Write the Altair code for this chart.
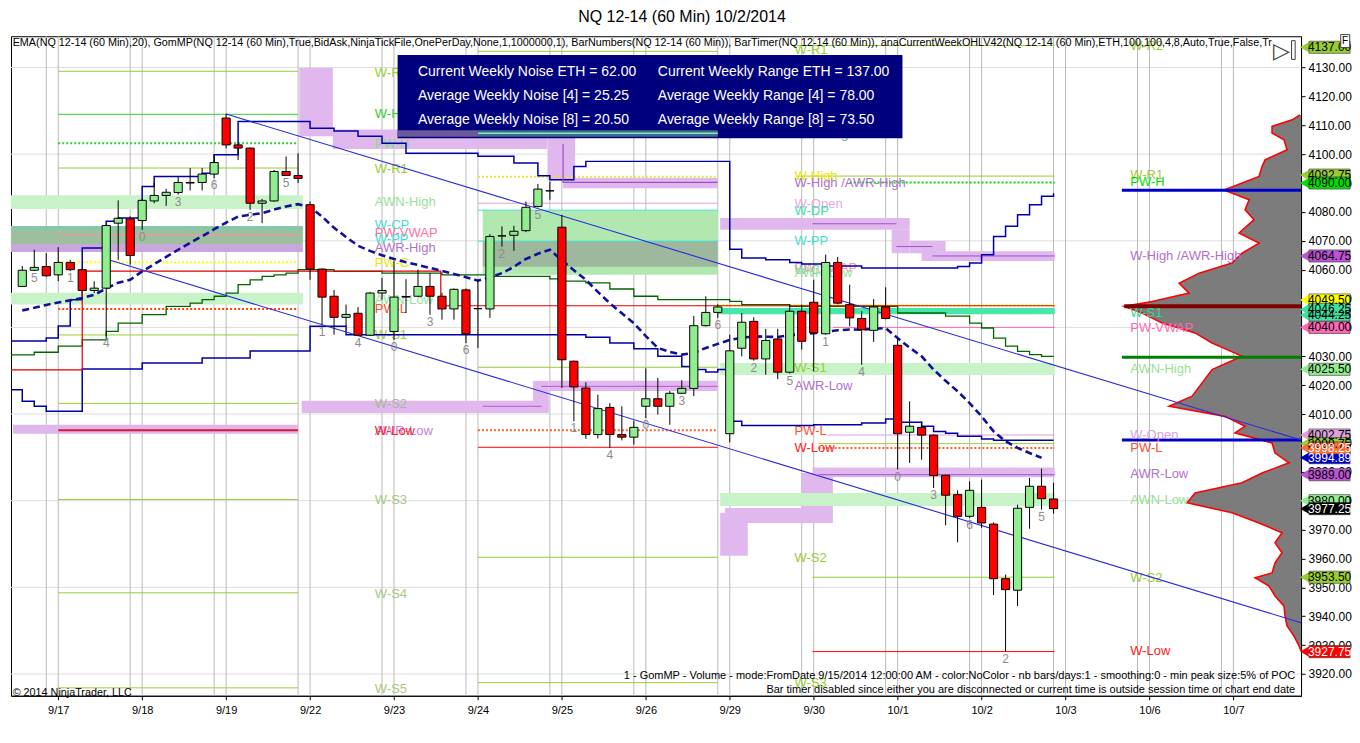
import altair as alt
import pandas as pd

# ---------------- candles (60 min RTH bars, index 0..86) ----------------
opens = [4054.2,4059.8,4061.1,4058.2,4062.5,4060.0,4052.8,4053.6,4076.1,4077.6,
4077.0,4083.8,4085.7,4086.7,4090.0,4090.2,4093.1,4112.5,4103.2,4102.1,
4083.0,4083.8,4094.0,4092.6,4082.5,4060.2,4050.8,4043.5,4044.9,4037.3,
4051.9,4038.6,4050.5,4050.8,4054.2,4050.8,4046.4,4053.0,4046.5,4046.4,
4071.7,4071.9,4073.5,4081.9,4087.3,4074.7,4028.3,4019.0,4002.9,4012.3,
4002.9,4002.0,4012.7,4015.3,4012.7,4017.2,4018.9,4040.6,4045.2,4003.2,
4032.8,4042.1,4029.1,4036.0,4024.5,4045.6,4048.7,4037.8,4062.5,4047.9,
4043.1,4039.0,4047.1,4033.8,4003.7,4005.4,4002.7,3988.8,3982.1,3974.6,
3977.7,3971.9,3953.0,3949.0,3977.7,3985.0,3980.6]
highs = [4061.3,4066.9,4065.7,4067.8,4063.4,4060.5,4056.0,4075.5,4084.0,4078.5,
4084.5,4090.0,4088.0,4092.3,4095.2,4095.2,4100.0,4114.0,4103.5,4102.3,
4084.5,4094.5,4099.2,4100.3,4083.6,4060.5,4053.0,4047.9,4047.0,4052.3,
4057.1,4062.9,4056.7,4060.0,4058.8,4052.0,4053.5,4053.5,4056.5,4072.3,
4075.0,4075.2,4083.6,4089.7,4090.5,4079.0,4028.5,4021.0,4016.7,4013.8,
4012.7,4007.7,4025.8,4022.5,4018.0,4021.7,4044.0,4050.8,4048.0,4037.5,
4045.0,4043.5,4039.5,4039.5,4047.9,4047.9,4056.5,4065.2,4064.4,4054.8,
4045.6,4049.8,4053.9,4036.3,4014.4,4007.5,4003.0,3989.0,3983.6,3986.7,
3987.3,3972.5,3954.4,3978.6,3987.9,3991.1,3986.2]
lows = [4054.0,4059.5,4057.5,4056.0,4059.5,4052.5,4051.9,4037.0,4063.4,4061.7,
4073.8,4083.0,4082.1,4086.0,4087.4,4087.4,4091.7,4102.0,4098.0,4080.7,
4076.1,4083.5,4092.5,4090.0,4056.5,4041.0,4037.5,4040.4,4037.0,4037.0,
4049.6,4035.7,4045.0,4050.5,4044.4,4042.7,4042.7,4034.6,4032.9,4043.3,
4068.0,4066.5,4073.0,4081.5,4084.2,4019.0,4007.5,4001.4,4001.6,3998.3,
4000.9,3999.4,4008.6,4009.8,4006.3,4017.0,4016.2,4040.3,4043.3,4000.2,
4030.0,4028.5,4023.6,4022.1,4024.0,4032.3,4024.8,4037.5,4048.0,4040.4,
4027.1,4035.0,4042.8,3990.8,3993.1,3994.2,3984.4,3971.5,3965.6,3974.0,
3970.6,3947.3,3927.75,3943.5,3970.3,3976.9,3975.5]
closes = [4059.8,4060.8,4057.9,4062.5,4060.0,4052.8,4053.6,4075.3,4077.8,4064.9,
4084.0,4085.7,4086.8,4090.2,4090.2,4093.1,4097.1,4103.2,4102.1,4083.0,
4083.8,4094.0,4092.6,4091.6,4060.2,4050.5,4043.5,4044.5,4037.3,4051.9,
4052.8,4050.5,4050.7,4054.2,4050.8,4046.4,4053.2,4037.8,4046.5,4071.5,
4071.7,4073.3,4081.6,4087.9,4087.3,4028.8,4019.4,4002.9,4011.9,4002.9,
4002.0,4005.4,4015.3,4012.7,4017.2,4018.9,4040.6,4045.2,4047.1,4031.9,
4041.8,4029.1,4035.5,4024.5,4045.6,4035.2,4038.1,4062.5,4048.4,4043.3,
4039.2,4047.1,4043.1,4003.2,4005.8,4002.7,3988.7,3981.9,3974.6,3983.6,
3972.3,3953.0,3949.2,3977.4,3985.0,3980.7,3977.25]

# EMA(20), bars 0..85
ema = [4045.9,4046.8,4047.8,4048.6,4049.4,4050.2,4051.3,4053.5,4055.5,4056.5,
4059.4,4061.9,4064.4,4066.9,4069.3,4071.6,4074.0,4076.3,4078.4,4079.0,
4079.6,4080.8,4081.9,4082.7,4081.7,4078.4,4074.5,4071.3,4068.3,4066.5,
4065.0,4063.7,4062.6,4061.6,4060.6,4059.6,4058.5,4057.4,4056.2,4057.3,
4058.8,4061.0,4063.7,4065.5,4066.9,4063.2,4059.8,4056.5,4052.3,4048.4,
4044.9,4041.5,4037.0,4032.9,4031.5,4030.6,4031.2,4032.9,4034.3,4035.7,
4036.4,4036.9,4036.8,4036.7,4037.3,4037.8,4038.0,4038.5,4039.0,4039.3,
4039.2,4039.5,4039.8,4036.3,4033.0,4030.0,4025.4,4021.5,4017.9,4013.8,
4009.2,4004.0,4000.6,3998.3,3996.5,3994.9]

# bar numbers printed under every third bar
barnum_idx = [1,4,7,10,13,16,19,22,25,28,31,34,37,40,43,46,49,52,55,58,61,64,67,70,73,76,79,82,85]
barnum_txt = ["5","1","4","0","3","6","2","5","1","4","0","3","6","2","5","1","4","0","3","6","2","5","1","4","0","3","6","2","5"]

# step lines (bar index, price)
upper_i = [-0.94,2,3,4,5,7,8,10,11,15,16,18,24,26,28,30,32,38,41,43,44,46,47,59,60,62,64,65,67,70,78,79,80,81,82,83,84,85,86]
upper_p = [4035.3,4036.3,4040.5,4049.6,4067.5,4076.8,4077.9,4088.8,4092.3,4093.4,4099.8,4111.3,4109.0,4108.0,4106.2,4103.8,4100.3,4099.3,4096.9,4092.5,4091.1,4095.7,4097.5,4067.1,4064.0,4063.4,4062.5,4062.0,4061.3,4060.6,4061.1,4062.3,4065.2,4071.5,4075.0,4079.0,4082.5,4085.4,4086.5]
lower_i = [-0.94,0,1,2,5,10,15,19,24,27,47,49,51,53,55,56,57,58,59,60,66,70,72,73,75,76,77,78,80,81,86]
lower_p = [4018.4,4014.4,4012.7,4011.0,4025.6,4027.7,4029.4,4031.8,4040.4,4037.5,4036.6,4034.6,4032.6,4030.0,4026.5,4025.4,4024.6,4025.4,4007.5,4006.0,4006.3,4006.9,4008.3,4007.2,4005.8,4004.0,4003.4,4002.3,4001.4,4000.9,4000.9]
green_i = [-0.94,1,3,5,7,8,10,12,14,15,16,17,18,19,20,21,22,23,26,30,35,39,44,45,47,49,51,53,59,60,64,73,77,79,80,81,82,83,84,85,86]
green_p = [4030.5,4031.4,4033.5,4035.7,4038.6,4041.5,4044.4,4047.3,4048.4,4049.6,4050.8,4051.9,4054.8,4056.5,4057.7,4058.2,4058.8,4060.0,4059.4,4058.8,4058.2,4057.7,4056.8,4056.0,4055.4,4053.3,4050.8,4049.6,4049.0,4047.9,4047.3,4045.0,4043.9,4041.5,4039.8,4036.3,4033.5,4031.7,4030.6,4030.0,4030.0]
red_i = [-0.94,5,34.9,86.1]
red_p = [4025.3,4059.5,4047.5,4047.5]
purple_i = [45.1,45.1,58.0]
purple_p = [4103.5,4090.2,4090.2]

# regression channel (two parallel lines)
chan_up_i = [17, 106.64]
chan_up_p = [4113.9, 4001.0]
chan_lo_i = [7, 106.64]
chan_lo_p = [4063.7, 3937.75]

# volume profile (price, relative volume; POC = 177)
prof_p = [4113.6,4112.0,4109.6,4107.3,4105.0,4101.5,4098.0,4095.7,4092.3,4087.6,
4084.2,4080.7,4077.3,4072.7,4069.2,4065.7,4062.3,4058.8,4055.3,4051.9,
4049.0,4047.3,4045.0,4041.5,4038.1,4034.6,4031.1,4030.0,4025.4,4020.8,
4016.2,4012.7,4009.2,4005.8,4003.5,4000.0,3996.5,3993.1,3989.6,3986.2,
3982.7,3979.3,3975.8,3972.3,3968.9,3965.4,3962.0,3958.5,3955.0,3953.3,
3950.4,3947.0,3943.5,3940.0,3936.6,3933.1,3929.7,3928.0]
prof_v = [1,8,29,29,17,14,36,39,42,77,52,56,47,62,42,59,69,102,122,112,
149,177,159,139,106,89,66,59,89,99,109,132,76,56,66,29,26,12,39,59,
106,114,69,42,19,26,19,26,29,46,32,26,17,16,14,7,2,0]

# weekly level bands: start bar, end bar, top price, bottom price, colour
band_x1 = [-0.94,-0.94,-0.94,-0.94,-0.78, 38.4,38.4, 23.1,25.9,43.8,45.1, 23.3,42.6,43.9,
           58.2,72.5,74.0,75.0, 58.0,58.2, 58.2,58.6,65.0,65.9, 58.2]
band_x2 = [23.4,23.4,23.4,23.4,23.0, 58.0,58.0, 25.9,43.8,46.1,58.0, 43.9,43.9,58.0,
           74.0,74.0,77.0,86.1, 86.1,86.1, 60.5,65.0,67.6,86.1, 86.1]
band_p1 = [4085.8,4075.1,4068.9,4052.0,4006.3, 4080.6,4069.8, 4129.8,4108.5,4108.5,4091.7, 4014.6,4021.5,4021.5,
           4077.9,4073.8,4069.9,4066.4, 4046.7,4027.7, 3975.8,3977.5,3989.6,3991.5, 3982.7]
band_p2 = [4081.0,4068.9,4066.1,4047.9,4003.2, 4058.2,4061.0, 4106.2,4101.8,4091.0,4088.2, 4010.4,4010.4,4018.0,
           4073.8,4065.7,4065.7,4063.0, 4044.6,4023.5, 3960.9,3972.3,3972.3,3988.1, 3978.2]
band_col = ["#c8f2c8","#9dbf9d","#c9a6dc","#c8f2c8","#deb8ec", "#b0e8b0","#9db89d",
            "#e0b8ee","#e0b8ee","#e0b8ee","#e0b8ee", "#e0b8ee","#e0b8ee","#e0b8ee",
            "#e0b8ee","#e0b8ee","#e0b8ee","#e0b8ee", "#48e6a8","#c8f2c8",
            "#e0b8ee","#e0b8ee","#e0b8ee","#e0b8ee", "#c8f2c8"]

# solid level lines
lvl_x1 = [3,3,3,-0.94,3,3,3,3,3,3,3,
          38,38,38,38,38,38,38,38,38.4,43.3,
          64.6,64.6,65.9,72.9,75.9,67.6,67.1,66.4,66.4,65.9,65.9,
          91.7,91.9,91.7,91.7]
lvl_x2 = [23,23,23,23.4,23,23,23,23,23,23,23,
          58,58,58,58,58,58,58,58,43.3,58,
          86.1,86.1,72.9,75.9,86.1,86.1,86.1,86.1,86.1,86.1,86.1,
          106.64,106.64,106.64,106.64]
lvl_p = [4128.7,4113.8,4095.2,4074.4,4072.0,4037.4,4013.7,4004.4,3980.4,3948.1,3915.2,
         4135.6,4083.0,4080.6,4069.9,4026.2,3998.5,3960.4,3917.0,4012.7,4019.6,
         4137.6,4092.4,4075.9,4068.0,4064.75,4040.0,4002.75,3999.75,3989.0,3953.5,3927.75,
         4087.5,4047.3,4029.7,4001.0]
lvl_col = ["#9acd32","#32cd32","#9acd32","#40e0d0","#ff8fb0","#9acd32","#9acd32","#dc143c","#9acd32","#9acd32","#9acd32",
           "#9acd32","#dda0dd","#40e0d0","#40e0d0","#9acd32","#ff0000","#9acd32","#9acd32","#ba55d3","#ba55d3",
           "#9acd32","#9acd32","#a050c8","#a050c8","#a050c8","#ff69b4","#dda0dd","#9acd32","#a050c8","#9acd32","#ff0000",
           "#0000cd","#800000","#008000","#0000cd"]
lvl_w = [1,1,1,1,1,1,1,2,1,1,1,
         1,1,1,1,1,1,1,1,1,1,
         1,1,1,1,1,1,1,1,1,1,1,
         3,4,3,3]

# dotted level lines
dot_x1 = [3,3,3,38,38,69,58,66.4]
dot_x2 = [23,23,23,58,58,86.1,86.1,86.1]
dot_p = [4103.8,4062.6,4046.4,4092.2,4004.4,4090.2,4047.7,3998.25]
dot_col = ["#32cd32","#ffff00","#ff4500","#f0e040","#ff6030","#00e000","#ffff00","#ff6030"]

# level labels
lab_x = [29.4]*19 + [64.4]*16 + [92.4]*13
lab_p = [4128.0,4113.8,4103.5,4094.8,4083.4,4075.4,4072.6,4070.5,4067.4,4062.3,4049.5,4046.3,4037.3,4013.5,4004.1,4004.1,3980.3,3947.8,3914.9,
         4136.0,4106.9,4092.4,4090.0,4082.7,4080.3,4069.9,4060.6,4059.8,4058.9,4026.0,4019.8,4004.1,3998.2,3960.2,3917.0,
         4137.4,4092.7,4090.3,4064.7,4045.0,4039.8,4025.6,4002.8,3998.2,3989.2,3980.3,3953.3,3928.1]
lab_txt = ["W-R2","W-High","PW-H","W-R1","AWN-High","W-CP","PW-VWAP","W-PP","AWR-High","PW-C","AWN-Low","PW-L","W-S1","W-S2","AWR-Low","W-Low","W-S3","W-S4","W-S5",
           "W-R1","AWN-High","W-High","W-High /AWR-High","W-Open","W-DP","W-PP","PW-VWAP","W-CP","AWN-Low","W-S1","AWR-Low","PW-L","W-Low","W-S2","W-S3",
           "W-R2","W-R1","PW-H","W-High /AWR-High","W-S1","PW-VWAP","AWN-High","W-Open","PW-L","AWR-Low","AWN-Low","W-S2","W-Low"]
lab_col = ["#9acd32","#32cd32","#7ee07e","#9acd32","#98e098","#40e0d0","#ff6fa0","#40e0d0","#b070d0","#e8e800","#98e098","#ff5030","#9acd32","#a8b890","#c080d8","#ff2020","#a8c880","#a8c880","#a8c880",
           "#9acd32","#40c080","#e8e800","#b070d0","#e0a8e0","#40e0b0","#40e0d0","#ff8fb0","#70d0a0","#98e098","#9acd32","#b070d0","#ff5030","#ff2020","#9acd32","#9acd32",
           "#9acd32","#9acd32","#00e000","#b070d0","#30d898","#ff69b4","#98e098","#dda0dd","#ff5030","#b070d0","#98e098","#9acd32","#ff2020"]

# info box
info_left = ["Current Weekly Noise ETH = 62.00", "Average Weekly Noise [4] = 25.25", "Average Weekly Noise [8] = 20.50"]
info_right = ["Current Weekly Range ETH = 137.00", "Average Weekly Range [4] = 78.00", "Average Weekly Range [8] = 73.50"]
info_rows_p = [4128.3, 4120.0, 4111.7]

# price tags on the right axis
tag_vals = [4137.00,4092.75,4090.00,4064.75,4049.50,4044.25,4046.25,4040.00,4025.50,4002.75,3999.75,3994.89,3998.25,3989.00,3980.00,3977.25,3953.50,3927.75]
tag_bg = ["#9acd32","#9acd32","#00e000","#ba55d3","#ffff00","#40e0a0","#40e0a0","#ff69b4","#90ee90","#dda0dd","#9acd32","#0000cd","#ff6a30","#ba55d3","#90ee90","#000000","#9acd32","#ff0000"]
tag_fg = ["#000000","#000000","#000000","#000000","#000000","#000000","#000000","#000000","#000000","#000000","#000000","#ffffff","#ffffff","#000000","#000000","#ffffff","#000000","#ffffff"]

day_labels = ["9/17","9/18","9/19","9/22","9/23","9/24","9/25","9/26","9/29","9/30","10/1","10/2","10/3","10/6","10/7"]
day_ticks = [3 + 7 * k for k in range(len(day_labels))]
price_ticks = list(range(3920, 4131, 10))
hgrid_vals = list(range(3920, 4131, 30))

indicator_text = ("EMA(NQ 12-14 (60 Min),20), GomMP(NQ 12-14 (60 Min),True,BidAsk,NinjaTickFile,OnePerDay,None,1,1000000,1), "
                  "BarNumbers(NQ 12-14 (60 Min)), BarTimer(NQ 12-14 (60 Min)), anaCurrentWeekOHLV42(NQ 12-14 (60 Min),ETH,100,100,4,8,Auto,True,False,Tr")
gom_text = ("1 - GomMP - Volume - mode:FromDate 9/15/2014 12:00:00 AM - color:NoColor - nb bars/days:1 - "
            "smoothing:0 - min peak size:5% of POC")
timer_text = "Bar timer disabled since either you are disconnected or current time is outside session time or chart end date"

# ---------------- scales / axes ----------------
XMIN, XMAX = -0.94, 106.64
YMIN, YMAX = 3912.46, 4140.83
FONT = "Liberation Sans"
xscale = alt.Scale(domain=[XMIN, XMAX], nice=False, zero=False)
yscale = alt.Scale(domain=[YMIN, YMAX], nice=False, zero=False)
label_expr = "[" + ",".join("'%s'" % d for d in day_labels) + "][round((datum.value-3)/7)]"
xaxis = alt.Axis(values=day_ticks, labelExpr=label_expr, title=None, grid=False, tickSize=4,
                 labelFontSize=11, labelFont=FONT, labelColor="black", tickColor="black",
                 domainColor="black", labelPadding=5, labelFlush=False)
yaxis = alt.Axis(orient="right", values=price_ticks, format=".2f", title=None, grid=False, tickSize=4,
                 labelFontSize=12, labelFont=FONT, labelColor="black", tickColor="black",
                 domainColor="black", labelPadding=3)


def X(f):
    return alt.X(f, type="quantitative", scale=xscale, axis=xaxis)


def Y(f):
    return alt.Y(f, type="quantitative", scale=yscale, axis=yaxis)


# ---------------- frames ----------------
n = len(opens)
cdf = pd.DataFrame({"i": list(range(n)), "o": opens, "h": highs, "l": lows, "c": closes})
cdf["x1"] = cdf["i"] - 0.34
cdf["x2"] = cdf["i"] + 0.34
ema_df = pd.DataFrame({"i": list(range(len(ema))), "p": ema})
bn_df = pd.DataFrame({"i": barnum_idx, "t": barnum_txt, "p": [lows[k] for k in barnum_idx]})

vgrid_df = pd.DataFrame({"i": [d - 1 for d in day_ticks] + day_ticks})
hgrid_df = pd.DataFrame({"p": hgrid_vals})
band_df = pd.DataFrame({"x1": band_x1, "x2": band_x2, "p1": band_p1, "p2": band_p2, "col": band_col})
lvl_df = pd.DataFrame({"x1": lvl_x1, "x2": lvl_x2, "p": lvl_p, "col": lvl_col, "w": lvl_w})
dot_df = pd.DataFrame({"x1": dot_x1, "x2": dot_x2, "p": dot_p, "col": dot_col})
lab_df = pd.DataFrame({"x": lab_x, "p": lab_p, "t": lab_txt, "col": lab_col})

RIGHT = XMAX
prof_df = pd.DataFrame({"p": prof_p, "v": prof_v})
prof_df["left"] = RIGHT - prof_df["v"] / 12.0
prof_df["right"] = RIGHT


def step_df(ii, pp):
    return pd.DataFrame({"i": ii, "p": pp, "k": list(range(len(ii)))})


info_df = pd.DataFrame({"x1": [31.3], "x2": [73.4], "p1": [4134.3], "p2": [4105.5]})
strip_df = pd.DataFrame({"x1": [31.3, 38.0], "x2": [38.0, 58.0], "p1": [4108.3, 4108.3], "p2": [4106.0, 4106.0],
                         "col": ["#6a5a9a", "#3f6f88"]})
awn_b_df = pd.DataFrame({"x1": [38.0], "x2": [58.0], "p": [4107.2]})
info_txt_df = pd.DataFrame({"x": [33.0] * 3 + [53.0] * 3, "p": info_rows_p + info_rows_p, "t": info_left + info_right})

tag_df = pd.DataFrame({"p": tag_vals, "bg": tag_bg, "fg": tag_fg})
tag_df["t"] = tag_df["p"].map(lambda v: "%.2f" % v)
tag_df["x1"] = 107.31
tag_df["x2"] = 110.73
tag_df["xt"] = 109.02
tag_df["xa"] = 107.0
tag_df["p1"] = tag_df["p"] + 2.1
tag_df["p2"] = tag_df["p"] - 2.1

ann_left_df = pd.DataFrame({"x": [-0.8, -0.8], "p": [4138.4, 3913.3],
                            "t": [indicator_text, "\u00a9 2014 NinjaTrader, LLC"]})
ann_right_df = pd.DataFrame({"x": [106.15, 106.15], "p": [3919.4, 3914.6], "t": [gom_text, timer_text]})
icon_df = pd.DataFrame({"x": [105.0], "p": [4135.6], "t": ["\u25b7"]})
icon_bar_df = pd.DataFrame({"x1": [105.85], "x2": [106.15], "p1": [4139.3], "p2": [4132.8]})
fbox_df = pd.DataFrame({"x1": [109.95], "x2": [110.7], "p1": [4141.4], "p2": [4136.9], "xt": [110.32], "pt": [4139.15], "t": ["F"]})

# ---------------- layers ----------------
layers = []
layers.append(alt.Chart(hgrid_df).mark_rule(color="#dedede", strokeWidth=1).encode(y=Y("p")))
layers.append(alt.Chart(vgrid_df).mark_rule(color="#bababa", strokeWidth=1).encode(x=X("i")))
layers.append(alt.Chart(band_df).mark_rect().encode(
    x=X("x1"), x2="x2", y=Y("p1"), y2="p2", color=alt.Color("col:N", scale=None)))
layers.append(alt.Chart(prof_df).mark_area(orient="horizontal", color="#7c7c7c").encode(
    y=Y("p"), x=X("left"), x2="right"))
layers.append(alt.Chart(prof_df).mark_line(color="#ff0000", strokeWidth=1.6).encode(
    y=Y("p"), x=X("left"), order=alt.Order("p:Q")))
layers.append(alt.Chart(lvl_df).mark_rule().encode(
    x=X("x1"), x2="x2", y=Y("p"), color=alt.Color("col:N", scale=None),
    strokeWidth=alt.StrokeWidth("w:Q", scale=None)))
layers.append(alt.Chart(dot_df).mark_rule(strokeDash=[2, 2], strokeWidth=2).encode(
    x=X("x1"), x2="x2", y=Y("p"), color=alt.Color("col:N", scale=None)))
layers.append(alt.Chart(lab_df).mark_text(align="left", baseline="middle", font=FONT, fontSize=13).encode(
    x=X("x"), y=Y("p"), text="t:N", color=alt.Color("col:N", scale=None)))

for ii, pp, col, w, interp in [(upper_i, upper_p, "#0000a8", 1.5, "step-after"),
                               (lower_i, lower_p, "#0000a8", 1.5, "step-after"),
                               (green_i, green_p, "#006400", 1.3, "step-after"),
                               (red_i, red_p, "#e00000", 1.2, "step-after"),
                               (purple_i, purple_p, "#a050c8", 1.2, "linear")]:
    layers.append(alt.Chart(step_df(ii, pp)).mark_line(interpolate=interp, color=col, strokeWidth=w).encode(
        x=X("i"), y=Y("p"), order=alt.Order("k:Q")))

for ii, pp in [(chan_up_i, chan_up_p), (chan_lo_i, chan_lo_p)]:
    layers.append(alt.Chart(step_df(ii, pp)).mark_line(color="#2a2ae0", strokeWidth=1.1).encode(
        x=X("i"), y=Y("p")))

layers.append(alt.Chart(ema_df).mark_line(color="#10109a", strokeWidth=2.6, strokeDash=[7, 4]).encode(
    x=X("i"), y=Y("p")))

layers.append(alt.Chart(cdf).mark_rule(color="black", strokeWidth=1).encode(x=X("i"), y=Y("l"), y2="h"))
layers.append(alt.Chart(cdf).mark_rect(stroke="black", strokeWidth=1).encode(
    x=X("x1"), x2="x2", y=Y("o"), y2="c",
    color=alt.condition("datum.c >= datum.o", alt.value("#90ee90"), alt.value("#ff0000"))))
layers.append(alt.Chart(bn_df).mark_text(color="#8c8c8c", font=FONT, fontSize=12, baseline="middle", dy=7).encode(
    x=X("i"), y=Y("p"), text="t:N"))

layers.append(alt.Chart(info_df).mark_rect(color="#00007f").encode(x=X("x1"), x2="x2", y=Y("p1"), y2="p2"))
layers.append(alt.Chart(strip_df).mark_rect().encode(
    x=X("x1"), x2="x2", y=Y("p1"), y2="p2", color=alt.Color("col:N", scale=None)))
layers.append(alt.Chart(awn_b_df).mark_rule(color="#7fe8c0", strokeWidth=1.5).encode(x=X("x1"), x2="x2", y=Y("p")))
layers.append(alt.Chart(info_txt_df).mark_text(align="left", baseline="middle", color="white", font=FONT, fontSize=14).encode(
    x=X("x"), y=Y("p"), text="t:N"))

layers.append(alt.Chart(ann_left_df).mark_text(align="left", baseline="middle", font=FONT, fontSize=10.8, color="black").encode(
    x=X("x"), y=Y("p"), text="t:N"))
layers.append(alt.Chart(ann_right_df).mark_text(align="right", baseline="middle", font=FONT, fontSize=11, color="black").encode(
    x=X("x"), y=Y("p"), text="t:N"))
layers.append(alt.Chart(icon_df).mark_text(font="DejaVu Sans", fontSize=22, color="#404040", baseline="middle").encode(
    x=X("x"), y=Y("p"), text="t:N"))
layers.append(alt.Chart(icon_bar_df).mark_rect(fill="white", stroke="#404040", strokeWidth=1).encode(
    x=X("x1"), x2="x2", y=Y("p1"), y2="p2"))

layers.append(alt.Chart(tag_df).mark_point(shape="triangle-left", filled=True, size=150, opacity=1).encode(
    x=X("xa"), y=Y("p"), color=alt.Color("bg:N", scale=None)))
layers.append(alt.Chart(tag_df).mark_rect(stroke="#333333", strokeWidth=0.6).encode(
    x=X("x1"), x2="x2", y=Y("p1"), y2="p2", color=alt.Color("bg:N", scale=None)))
layers.append(alt.Chart(tag_df).mark_text(font=FONT, fontSize=12, baseline="middle").encode(
    x=X("xt"), y=Y("p"), text="t:N", color=alt.Color("fg:N", scale=None)))

layers.append(alt.Chart(fbox_df).mark_rect(fill="white", stroke="#404040", strokeWidth=1).encode(
    x=X("x1"), x2="x2", y=Y("p1"), y2="p2"))
layers.append(alt.Chart(fbox_df).mark_text(font=FONT, fontSize=10, color="black", baseline="middle").encode(
    x=X("xt"), y=Y("pt"), text="t:N"))

chart = alt.layer(*layers).properties(
    width=1291, height=660,
    padding={"left": 0, "top": 0, "right": 0, "bottom": 0},
    background="white",
    title=alt.TitleParams("NQ 12-14 (60 Min)  10/2/2014", fontSize=16, font=FONT, fontWeight="normal",
                          anchor="middle", offset=9, dx=26, color="black"),
).configure_view(stroke="black", strokeWidth=1)

chart.save("out.html", embed_options={"renderer": "svg", "actions": False})
